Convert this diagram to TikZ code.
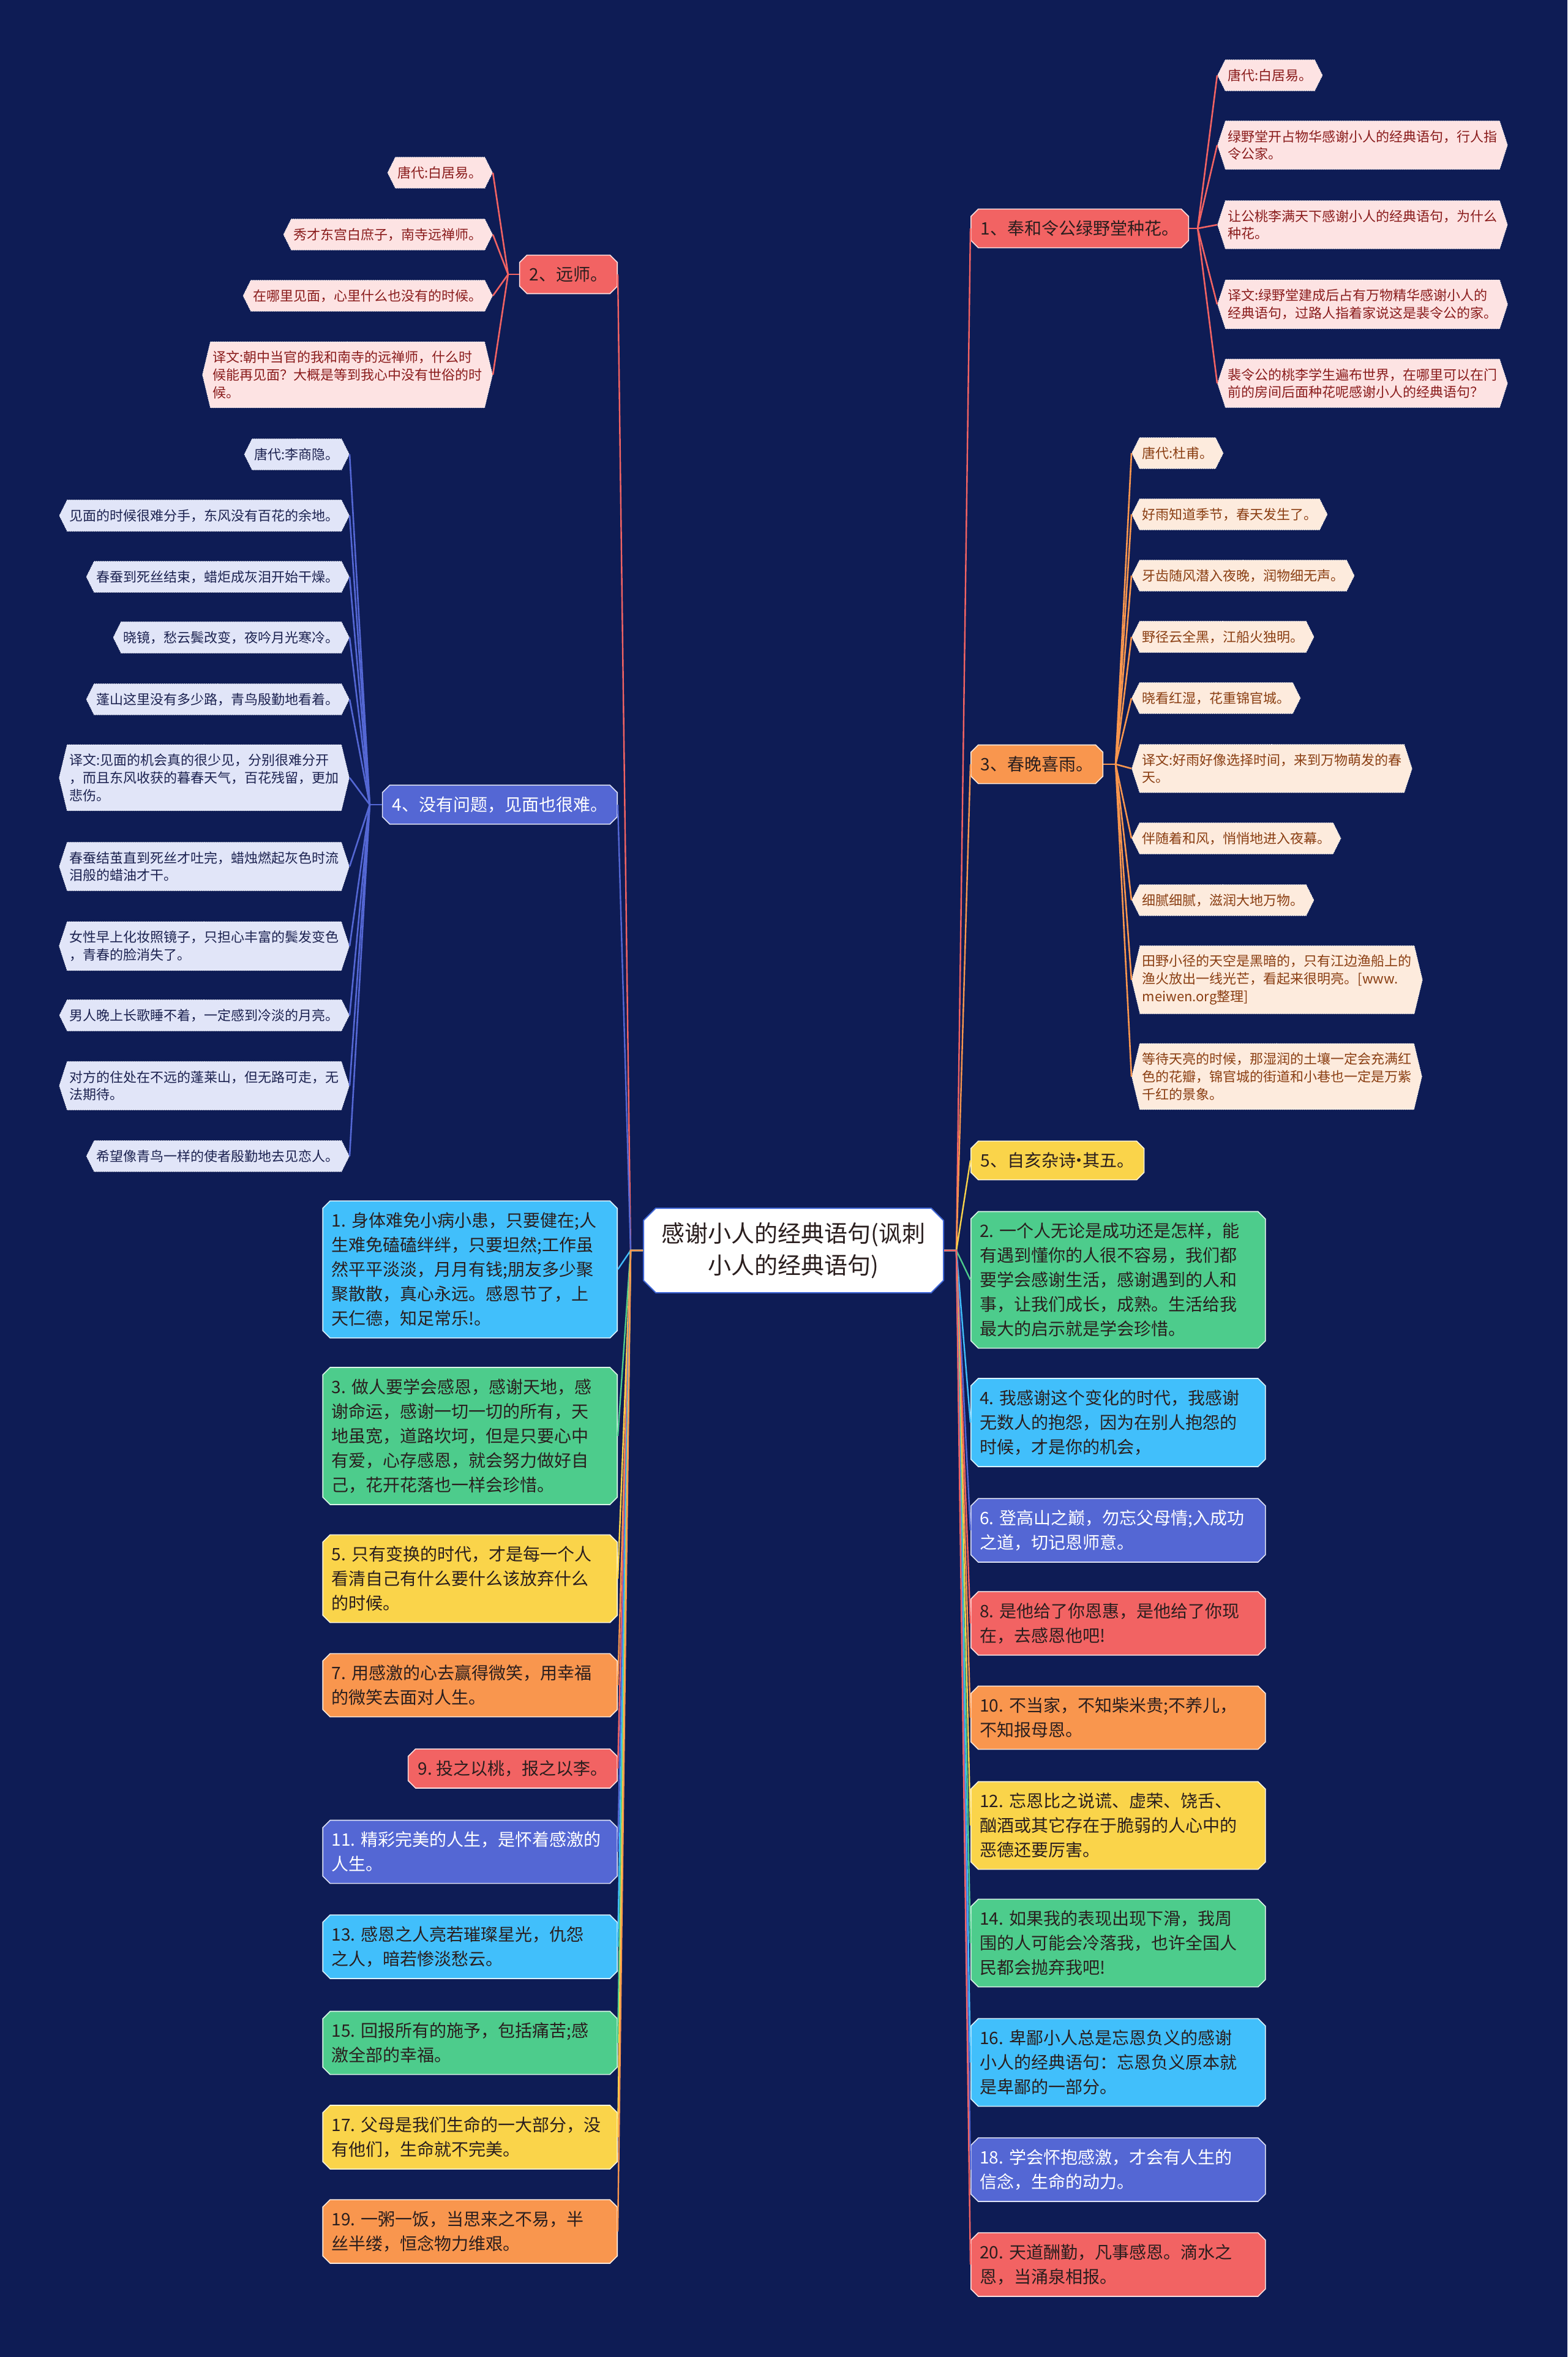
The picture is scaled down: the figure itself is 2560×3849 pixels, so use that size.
\documentclass[tikz,border=0pt]{standalone}
\usepackage{fontspec}
\newfontfamily\cjk{Noto Sans CJK SC}
\usetikzlibrary{shapes.misc, shapes.symbols}
\definecolor{mbg}{HTML}{0E1C55}
\definecolor{mred}{HTML}{F26363}
\definecolor{morange}{HTML}{F9964E}
\definecolor{myellow}{HTML}{FAD44A}
\definecolor{mgreen}{HTML}{4DCC8C}
\definecolor{mcyan}{HTML}{41BFFB}
\definecolor{mindigo}{HTML}{5467D4}
\definecolor{mink}{HTML}{2A1E1E}
\definecolor{mrim}{HTML}{3F66D6}
\definecolor{lred}{HTML}{FDE3E3}
\definecolor{lorange}{HTML}{FDEBDD}
\definecolor{lindigo}{HTML}{E1E5F8}
\definecolor{tred}{HTML}{8A1C1C}
\definecolor{torange}{HTML}{8A3E12}
\definecolor{tindigo}{HTML}{1C2250}
\tikzset{
  root/.style={
    shape=chamfered rectangle, chamfered rectangle xsep=5pt, chamfered rectangle ysep=5pt,
    fill=white, draw=mrim, line width=1pt, align=center, text=mink,
    minimum width=245pt, minimum height=69pt,
    font=\cjk\fontsize{19}{26}\selectfont
  },
  topic/.style={
    shape=chamfered rectangle, chamfered rectangle xsep=3pt, chamfered rectangle ysep=3pt,
    fill=#1, draw=white!80!#1, line width=0.8pt, text=mink, align=left,
    inner xsep=5pt, inner ysep=6.3pt,
    font=\cjk\fontsize{14}{20}\selectfont
  },
  item/.style={topic=#1, text width=226pt, inner xsep=4.25pt},
  leaf/.style={
    shape=signal, signal to=west and east, signal pointer angle=127,
    fill=l#1, text=t#1, draw=white, densely dotted, line width=0.5pt,
    inner xsep=2pt, inner ysep=7.5pt, align=left,
    font=\cjk\fontsize{11}{14.3}\selectfont
  },
  tall/.style={signal pointer angle=144},
  taller/.style={signal pointer angle=153},
  link/.style={draw=#1, line width=1.2pt},
  twig/.style={draw=#1, line width=1.3pt}
}
\begin{document}
\begin{tikzpicture}[x=0.5pt, y=-0.5pt]
  \fill[mbg] (0,0) rectangle (2560,3849);
  \useasboundingbox (0,0) rectangle (2560,3849);

  \node[root] (root) at (1296,2042) {感谢小人的经典语句(讽刺\\小人的经典语句)};
  \coordinate (lhub) at ([xshift=-10pt]root.west);
  \coordinate (rhub) at ([xshift=10pt]root.east);

  % right side
  \node[topic=mred, anchor=west] (r1) at (1585,373) {1、奉和令公绿野堂种花。};
  \node[topic=morange, anchor=west] (r3) at (1585,1248) {3、春晚喜雨。};
  \node[topic=myellow, anchor=west] (r5) at (1585,1895) {5、自亥杂诗\makebox[0.4em]{·}其五。};
  \node[item=mgreen, anchor=west] (r2) at (1585,2090) {2.~一个人无论是成功还是怎样，能\\有遇到懂你的人很不容易，我们都\\要学会感谢生活，感谢遇到的人和\\事，让我们成长，成熟。生活给我\\最大的启示就是学会珍惜。};
  \node[item=mcyan, anchor=west] (r4) at (1585,2323) {4.~我感谢这个变化的时代，我感谢\\无数人的抱怨，因为在别人抱怨的\\时候，才是你的机会，};
  \node[item=mindigo, text=white, anchor=west] (r6) at (1585,2499) {6.~登高山之巅，勿忘父母情;入成功\\之道，切记恩师意。};
  \node[item=mred, anchor=west] (r8) at (1585,2651) {8.~是他给了你恩惠，是他给了你现\\在，去感恩他吧!};
  \node[item=morange, anchor=west] (r10) at (1585,2805) {10.~不当家，不知柴米贵;不养儿，\\不知报母恩。};
  \node[item=myellow, anchor=west] (r12) at (1585,2981) {12.~忘恩比之说谎、虚荣、饶舌、\\酗酒或其它存在于脆弱的人心中的\\恶德还要厉害。};
  \node[item=mgreen, anchor=west] (r14) at (1585,3173) {14.~如果我的表现出现下滑，我周\\围的人可能会冷落我，也许全国人\\民都会抛弃我吧!};
  \node[item=mcyan, anchor=west] (r16) at (1585,3368) {16.~卑鄙小人总是忘恩负义的感谢\\小人的经典语句：忘恩负义原本就\\是卑鄙的一部分。};
  \node[item=mindigo, text=white, anchor=west] (r18) at (1585,3543) {18.~学会怀抱感激，才会有人生的\\信念，生命的动力。};
  \node[item=mred, anchor=west] (r20) at (1585,3698) {20.~天道酬勤，凡事感恩。滴水之\\恩，当涌泉相报。};

  % left side
  \node[topic=mred, anchor=east] (l2) at (1009,448) {2、远师。};
  \node[topic=mindigo, text=white, anchor=east] (l4) at (1009,1314) {4、没有问题，见面也很难。};
  \node[item=mcyan, anchor=east] (l1) at (1009,2073) {1.~身体难免小病小患，只要健在;人\\生难免磕磕绊绊，只要坦然;工作虽\\然平平淡淡，月月有钱;朋友多少聚\\聚散散，真心永远。感恩节了，上\\天仁德，知足常乐!。};
  \node[item=mgreen, anchor=east] (l3) at (1009,2345) {3.~做人要学会感恩，感谢天地，感\\谢命运，感谢一切一切的所有，天\\地虽宽，道路坎坷，但是只要心中\\有爱，心存感恩，就会努力做好自\\己，花开花落也一样会珍惜。};
  \node[item=myellow, anchor=east] (l5) at (1009,2578) {5.~只有变换的时代，才是每一个人\\看清自己有什么要什么该放弃什么\\的时候。};
  \node[item=morange, anchor=east] (l7) at (1009,2752) {7.~用感激的心去赢得微笑，用幸福\\的微笑去面对人生。};
  \node[topic=mred, anchor=east] (l9) at (1009,2888) {9.~投之以桃，报之以李。};
  \node[item=mindigo, text=white, anchor=east] (l11) at (1009,3024) {11.~精彩完美的人生，是怀着感激的\\人生。};
  \node[item=mcyan, anchor=east] (l13) at (1009,3179) {13.~感恩之人亮若璀璨星光，仇怨\\之人，暗若惨淡愁云。};
  \node[item=mgreen, anchor=east] (l15) at (1009,3336) {15.~回报所有的施予，包括痛苦;感\\激全部的幸福。};
  \node[item=myellow, anchor=east] (l17) at (1009,3490) {17.~父母是我们生命的一大部分，没\\有他们，生命就不完美。};
  \node[item=morange, anchor=east] (l19) at (1009,3644) {19.~一粥一饭，当思来之不易，半\\丝半缕，恒念物力维艰。};

  \foreach \n/\c in {r1/mred, r3/morange, r5/myellow, r2/mgreen, r4/mcyan, r6/mindigo, r8/mred,
                     r10/morange, r12/myellow, r14/mgreen, r16/mcyan, r18/mindigo, r20/mred}
    \draw[link=\c] (root.east) -- (rhub) -- (\n.west);
  \foreach \n/\c in {l2/mred, l4/mindigo, l1/mcyan, l3/mgreen, l5/myellow, l7/morange, l9/mred,
                     l11/mindigo, l13/mcyan, l15/mgreen, l17/myellow, l19/morange}
    \draw[link=\c] (root.west) -- (lhub) -- (\n.east);

  % leaves of r1
  \node[leaf=red, anchor=west] (r1a) at (1988,123) {唐代:白居易。};
  \node[leaf=red, tall, anchor=west] (r1b) at (1988,237) {绿野堂开占物华感谢小人的经典语句，行人指\\令公家。};
  \node[leaf=red, tall, anchor=west] (r1c) at (1988,367) {让公桃李满天下感谢小人的经典语句，为什么\\种花。};
  \node[leaf=red, tall, anchor=west] (r1d) at (1988,497) {译文:绿野堂建成后占有万物精华感谢小人的\\经典语句，过路人指着家说这是裴令公的家。};
  \node[leaf=red, tall, anchor=west] (r1e) at (1988,626) {裴令公的桃李学生遍布世界，在哪里可以在门\\前的房间后面种花呢感谢小人的经典语句？};
  \coordinate (r1hub) at ([xshift=7pt]r1.east);
  \draw[twig=mred] (r1.east) -- (r1hub);
  \foreach \n in {r1a, r1b, r1c, r1d, r1e}
    \draw[twig=mred] (r1hub) -- (\n.west);

  % leaves of r3
  \node[leaf=orange, anchor=west] (r3a) at (1848,740) {唐代:杜甫。};
  \node[leaf=orange, anchor=west] (r3b) at (1848,840) {好雨知道季节，春天发生了。};
  \node[leaf=orange, anchor=west] (r3c) at (1848,940) {牙齿随风潜入夜晚，润物细无声。};
  \node[leaf=orange, anchor=west] (r3d) at (1848,1040) {野径云全黑，江船火独明。};
  \node[leaf=orange, anchor=west] (r3e) at (1848,1140) {晓看红湿，花重锦官城。};
  \node[leaf=orange, tall, anchor=west] (r3f) at (1848,1255) {译文:好雨好像选择时间，来到万物萌发的春\\天。};
  \node[leaf=orange, anchor=west] (r3g) at (1848,1369) {伴随着和风，悄悄地进入夜幕。};
  \node[leaf=orange, anchor=west] (r3h) at (1848,1470) {细腻细腻，滋润大地万物。};
  \node[leaf=orange, taller, anchor=west] (r3i) at (1848,1600) {田野小径的天空是黑暗的，只有江边渔船上的\\渔火放出一线光芒，看起来很明亮。[www.\\meiwen.org整理]};
  \node[leaf=orange, taller, anchor=west] (r3j) at (1848,1758) {等待天亮的时候，那湿润的土壤一定会充满红\\色的花瓣，锦官城的街道和小巷也一定是万紫\\千红的景象。};
  \coordinate (r3hub) at ([xshift=10pt]r3.east);
  \draw[twig=morange] (r3.east) -- (r3hub);
  \foreach \n in {r3a, r3b, r3c, r3d, r3e, r3f, r3g, r3h, r3i, r3j}
    \draw[twig=morange] (r3hub) -- (\n.west);

  % leaves of l2
  \node[leaf=red, anchor=east] (l2a) at (805,282) {唐代:白居易。};
  \node[leaf=red, anchor=east] (l2b) at (805,383) {秀才东宫白庶子，南寺远禅师。};
  \node[leaf=red, anchor=east] (l2c) at (805,483) {在哪里见面，心里什么也没有的时候。};
  \node[leaf=red, taller, anchor=east] (l2d) at (805,612) {译文:朝中当官的我和南寺的远禅师，什么时\\候能再见面？大概是等到我心中没有世俗的时\\候。};
  \coordinate (l2hub) at ([xshift=-9pt]l2.west);
  \draw[twig=mred] (l2.west) -- (l2hub);
  \foreach \n in {l2a, l2b, l2c, l2d}
    \draw[twig=mred] (l2hub) -- (\n.east);

  % leaves of l4
  \node[leaf=indigo, anchor=east] (l4a) at (571,742) {唐代:李商隐。};
  \node[leaf=indigo, anchor=east] (l4b) at (571,842) {见面的时候很难分手，东风没有百花的余地。};
  \node[leaf=indigo, anchor=east] (l4c) at (571,942) {春蚕到死丝结束，蜡炬成灰泪开始干燥。};
  \node[leaf=indigo, anchor=east] (l4d) at (571,1041) {晓镜，愁云鬓改变，夜吟月光寒冷。};
  \node[leaf=indigo, anchor=east] (l4e) at (571,1142) {蓬山这里没有多少路，青鸟殷勤地看着。};
  \node[leaf=indigo, taller, anchor=east] (l4f) at (571,1270) {译文:见面的机会真的很少见，分别很难分开\\，而且东风收获的暮春天气，百花残留，更加\\悲伤。};
  \node[leaf=indigo, tall, anchor=east] (l4g) at (571,1415) {春蚕结茧直到死丝才吐完，蜡烛燃起灰色时流\\泪般的蜡油才干。};
  \node[leaf=indigo, tall, anchor=east] (l4h) at (571,1545) {女性早上化妆照镜子，只担心丰富的鬓发变色\\，青春的脸消失了。};
  \node[leaf=indigo, anchor=east] (l4i) at (571,1658) {男人晚上长歌睡不着，一定感到冷淡的月亮。};
  \node[leaf=indigo, tall, anchor=east] (l4j) at (571,1773) {对方的住处在不远的蓬莱山，但无路可走，无\\法期待。};
  \node[leaf=indigo, anchor=east] (l4k) at (571,1888) {希望像青鸟一样的使者殷勤地去见恋人。};
  \coordinate (l4hub) at ([xshift=-10pt]l4.west);
  \draw[twig=mindigo] (l4.west) -- (l4hub);
  \foreach \n in {l4a, l4b, l4c, l4d, l4e, l4f, l4g, l4h, l4i, l4j, l4k}
    \draw[twig=mindigo] (l4hub) -- (\n.east);
\end{tikzpicture}
\end{document}
